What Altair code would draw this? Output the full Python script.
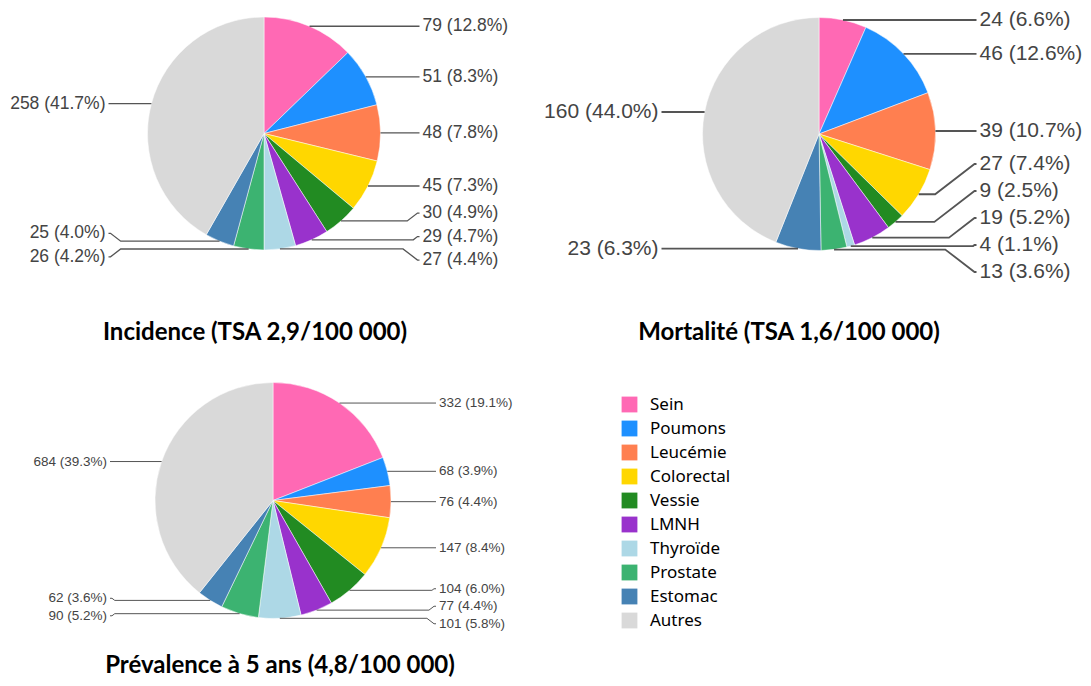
import math
import altair as alt
import pandas as pd

# ---------------- data ----------------
categories = ["Sein", "Poumons", "Leucémie", "Colorectal", "Vessie", "LMNH",
              "Thyroïde", "Prostate", "Estomac", "Autres"]
colors = ["#FF69B4", "#1E90FF", "#FF7F50", "#FFD700", "#228B22", "#9932CC",
          "#ADD8E6", "#3CB371", "#4682B4", "#D9D9D9"]
incidence = [79, 51, 48, 45, 30, 29, 27, 26, 25, 258]
mortalite = [24, 46, 39, 27, 9, 19, 4, 13, 23, 160]
prevalence = [332, 68, 76, 147, 104, 77, 101, 90, 62, 684]
titles = ["Incidence (TSA 2,9/100 000)", "Mortalité (TSA 1,6/100 000)",
          "Prévalence à 5 ans (4,8/100 000)"]

# ---------------- layout ----------------
W, H = 1075, 670
pies = [
    dict(values=incidence, cx=256, cy=125.5, r=116.5, fs=17.5, gap=23.5, off=42,
         sw=1.3, lo=0, hi=300, txy=(247, 332)),
    dict(values=mortalite, cx=811, cy=126, r=116.5, fs=21, gap=27, off=44,
         sw=1.8, lo=0, hi=264, txy=(781, 332)),
    dict(values=prevalence, cx=265, cy=492.5, r=118, fs=13.5, gap=17.5, off=48,
         sw=1.0, lo=360, hi=619, txy=(272, 665)),
]


def spread(desired, gap, lo, hi):
    clusters = []

    def place(c):
        n = len(c["keys"])
        top = sum(c["ys"]) / n - (n - 1) * gap / 2
        top = max(lo, min(top, hi - (n - 1) * gap))
        c["top"] = top

    for y, k in desired:
        clusters.append({"keys": [k], "ys": [y]})
        place(clusters[-1])
        while len(clusters) > 1 and clusters[-1]["top"] < clusters[-2]["top"] + len(clusters[-2]["keys"]) * gap:
            b = clusters.pop()
            a = clusters[-1]
            a["keys"] += b["keys"]
            a["ys"] += b["ys"]
            place(a)
    out = {}
    for c in clusters:
        for i, k in enumerate(c["keys"]):
            out[k] = c["top"] + i * gap
    return out


xs = alt.Scale(domain=[0, W], range=[0, W], nice=False, zero=False)
ys = alt.Scale(domain=[0, H], range=[0, H], nice=False, zero=False)

color_enc = alt.Color(
    "cat:N",
    scale=alt.Scale(domain=categories, range=colors),
    legend=alt.Legend(title=None, orient="none", legendX=613, legendY=388,
                      symbolType="square", symbolSize=250, symbolStrokeWidth=0,
                      labelFont="Noto Sans", labelFontSize=17, labelColor="#000",
                      rowPadding=6, labelOffset=12, padding=0),
)

layers = []
label_rows = []
line_rows = []
for p_i, p in enumerate(pies):
    vals = p["values"]
    total = sum(vals)
    df = pd.DataFrame({"cat": categories, "value": vals, "idx": list(range(len(vals)))})
    arc = alt.Chart(df).mark_arc(stroke="white", strokeWidth=0.5).encode(
        theta=alt.Theta("value:Q", stack="normalize"),
        order=alt.Order("idx:Q", sort="ascending"),
        color=color_enc,
        x=alt.value(p["cx"]),
        y=alt.value(p["cy"]),
        radius=alt.value(p["r"]),
    )
    layers.append(arc)

    cum = 0
    right, left = [], []
    info = {}
    for i, v in enumerate(vals):
        mid = (cum + v / 2) / total * 2 * math.pi
        cum += v
        ex = p["cx"] + p["r"] * math.sin(mid)
        ey = p["cy"] - p["r"] * math.cos(mid)
        txt = f"{v} ({v / total * 100:.1f}%)"
        side = "R" if math.sin(mid) >= 0 else "L"
        info[i] = (ex, ey, txt, side)
        (right if side == "R" else left).append((ey, i))
    pos = {}
    pos.update(spread(sorted(right), p["gap"], p["lo"], p["hi"]))
    pos.update(spread(sorted(left), p["gap"], p["lo"], p["hi"]))
    for i, (ex, ey, txt, side) in info.items():
        ly = pos[i]
        key = f"{p_i}-{i}"
        if side == "R":
            tx = p["cx"] + p["r"] + p["off"]
            xe = tx - 3
            sgn = 1
        else:
            tx = p["cx"] - p["r"] - p["off"]
            xe = tx + 3
            sgn = -1
        label_rows.append(dict(text=txt, x=tx, y=ly, fs=p["fs"], side=side))
        dy = abs(ly - ey)
        pts = [(ex, ey)]
        if dy > 0.5:
            xb = xe - sgn * (dy * 1.3 + 2)
            if (xb - ex) * sgn < 0:
                xb = ex
            pts.append((xb, ey))
            pts.append((xe - sgn * 2, ly))
        pts.append((xe, ly))
        for k, (px, py) in enumerate(pts):
            line_rows.append(dict(key=key, pt=k, x=px, y=py, sw=p["sw"]))

labels_df = pd.DataFrame(label_rows)
lines_df = pd.DataFrame(line_rows)
titles_df = pd.DataFrame({"text": titles,
                          "x": [p["txy"][0] for p in pies],
                          "y": [p["txy"][1] for p in pies]})

lines = alt.Chart(lines_df).mark_line(color="#555").encode(
    x=alt.X("x:Q", scale=xs, axis=None),
    y=alt.Y("y:Q", scale=ys, axis=None),
    detail="key:N",
    order="pt:Q",
    strokeWidth=alt.StrokeWidth("sw:Q", scale=None),
)

lab_r = alt.Chart(labels_df).transform_filter(alt.datum.side == "R").mark_text(
    align="left", baseline="middle", font="Liberation Sans", color="#444"
).encode(
    x=alt.X("x:Q", scale=xs, axis=None),
    y=alt.Y("y:Q", scale=ys, axis=None),
    text="text:N",
    size=alt.Size("fs:Q", scale=None),
)
lab_l = alt.Chart(labels_df).transform_filter(alt.datum.side == "L").mark_text(
    align="right", baseline="middle", font="Liberation Sans", color="#444"
).encode(
    x=alt.X("x:Q", scale=xs, axis=None),
    y=alt.Y("y:Q", scale=ys, axis=None),
    text="text:N",
    size=alt.Size("fs:Q", scale=None),
)

title_layer = alt.Chart(titles_df).mark_text(
    align="center", baseline="alphabetic", font="Lato",
    fontWeight="bold", fontSize=24, color="#000"
).encode(
    x=alt.X("x:Q", scale=xs, axis=None),
    y=alt.Y("y:Q", scale=ys, axis=None),
    text="text:N",
)

chart = alt.layer(*layers, lines, lab_r, lab_l, title_layer).properties(
    width=W, height=H, padding=0, autosize="none", background="white"
).configure_view(stroke=None)

chart.save("out.html", embed_options={"renderer": "svg", "actions": False})
